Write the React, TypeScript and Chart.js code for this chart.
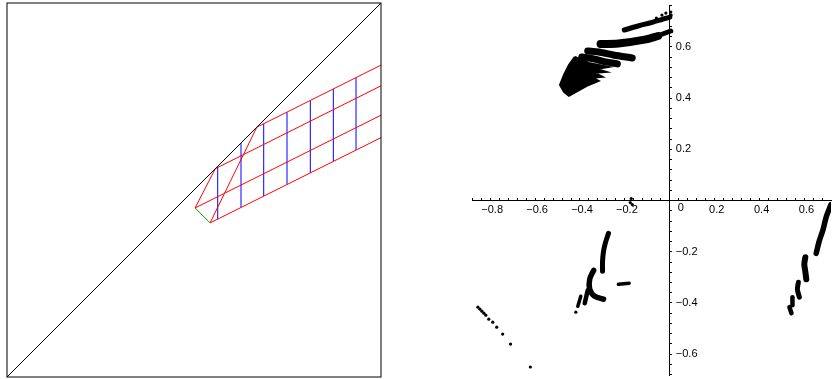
import React, { useEffect, useRef } from "react";
import { Chart, registerables } from "chart.js";

Chart.register(...registerables);

type P = [number, number];

// ---------- Left panel (unit square) ----------
const diagonalLine: P[] = [[0, 0], [1, 1]];
const redStartX = [0.668, 0.557, 0.503, 0.543];
const redStartY = [0.668, 0.557, 0.452, 0.412];
const redEndX = [1, 1, 1, 1];
const redEndY = [0.834, 0.7785, 0.7, 0.64];
const linkFrom: P[] = [[0.503, 0.452], [0.543, 0.412]];
const linkTo: P[] = [[0.557, 0.557], [0.668, 0.668]];
const greenEdge: P[] = [[0.503, 0.452], [0.543, 0.412]];
const blueX = [0.5634, 0.6257, 0.6864, 0.7487, 0.811, 0.8725, 0.9332];
const blueTop = [0.5634, 0.6257, 0.677, 0.708, 0.7395, 0.77, 0.8006];
const blueBottom = [0.422, 0.453, 0.484, 0.515, 0.546, 0.577, 0.607];

// ---------- Right panel (scatter of the attractor) ----------
const bandA: P[] = [[-0.2026, 0.6654], [-0.141, 0.681], [-0.0749, 0.6965], [0, 0.716]];
const bandADots: P[] = [[-0.0176, 0.7315], [0.0044, 0.7354], [-0.035, 0.7237], [-0.06, 0.712], [0.006, 0.724]];
const bandBHead: P[] = [[-0.3084, 0.6109], [-0.2291, 0.6128], [-0.1057, 0.6288], [-0.0529, 0.642]];
const bandBTail: P[] = [[-0.0749, 0.6362], [0.0044, 0.6615]];
const bandC: P[] = [[-0.3656, 0.5837], [-0.3172, 0.5798], [-0.2511, 0.5681], [-0.1674, 0.5564]];
const bandD: P[] = [[-0.3921, 0.5603], [-0.3392, 0.5525], [-0.2863, 0.5409], [-0.2335, 0.5331]];
const blob: P[] = [
  [-0.4229, 0.5603], [-0.3612, 0.537], [-0.2731, 0.5214], [-0.326, 0.5136], [-0.2819, 0.5019],
  [-0.3348, 0.4981], [-0.2996, 0.4825], [-0.3436, 0.4786], [-0.3172, 0.4669], [-0.37, 0.4475],
  [-0.4493, 0.4086], [-0.4714, 0.4241], [-0.489, 0.4514], [-0.4714, 0.4903], [-0.4493, 0.5292],
  [-0.4229, 0.5603],
];
const arcE: P[] = [[-0.2731, -0.1284], [-0.2863, -0.1634], [-0.2952, -0.1984], [-0.2996, -0.2374], [-0.2996, -0.2763]];
const arcF: P[] = [[-0.3392, -0.2724], [-0.3568, -0.3074], [-0.3568, -0.3463], [-0.3348, -0.3735], [-0.2952, -0.3852]];
const strokeG: P[] = [[-0.3656, -0.3502], [-0.3789, -0.4008]];
const strokeH: P[] = [[-0.3965, -0.3735], [-0.4097, -0.4125]];
const clusterJ: P[] = [[-0.229, -0.327], [-0.205, -0.325], [-0.181, -0.323]];
const lowerDots: P[] = [
  [-0.4185, -0.4358], [-0.8546, -0.4163], [-0.8458, -0.4241], [-0.837, -0.4319], [-0.8282, -0.4397],
  [-0.8194, -0.4475], [-0.8062, -0.463], [-0.7885, -0.4747], [-0.7709, -0.4942], [-0.7445, -0.5214],
  [-0.7093, -0.5603], [-0.6211, -0.6498], [-0.1718, 0.0078], [-0.1674, -0.0156], [-0.1762, -0.0078],
];
const bandK: P[] = [[0.7181, -0.0156], [0.7093, -0.035], [0.696, -0.0661], [0.6828, -0.1128], [0.6652, -0.1595], [0.652, -0.2062]];
const strokeL: P[] = [[0.6035, -0.2218], [0.5991, -0.249], [0.6035, -0.2763], [0.6079, -0.3074]];
const strokeM: P[] = [[0.5727, -0.3191], [0.5683, -0.3463], [0.5771, -0.3774]];
const strokeN: P[] = [[0.5463, -0.3774], [0.5463, -0.4086]];
const strokeO: P[] = [[0.533, -0.4163], [0.5419, -0.4397]];

const xLabelValues = [-0.8, -0.6, -0.4, -0.2, 0.2, 0.4, 0.6];
const xLabelTexts = ["\u22120.8", "\u22120.6", "\u22120.4", "\u22120.2", "0.2", "0.4", "0.6"];
const yLabelValues = [0.6, 0.4, 0.2, -0.2, -0.4, -0.6];
const yLabelTexts = ["0.6", "0.4", "0.2", "\u22120.2", "\u22120.4", "\u22120.6"];

const toXY = (pts: P[]) => pts.map(([x, y]) => ({ x, y }));
const FONT = '11px "Liberation Sans", Arial, sans-serif';

const framePlugin = {
  id: "frame",
  afterDraw(chart: any) {
    const { ctx, chartArea: a } = chart;
    ctx.save();
    ctx.strokeStyle = "#000";
    ctx.lineWidth = 1;
    ctx.strokeRect(a.left, a.top, a.right - a.left, a.bottom - a.top);
    ctx.restore();
  },
};

const labelPlugin = {
  id: "axisLabels",
  afterDraw(chart: any) {
    const { ctx } = chart;
    const xs = chart.scales.x;
    const ys = chart.scales.y;
    const x0 = xs.getPixelForValue(0);
    const y0 = ys.getPixelForValue(0);
    ctx.save();
    ctx.font = FONT;
    ctx.fillStyle = "#000";
    ctx.textAlign = "center";
    ctx.textBaseline = "top";
    xLabelValues.forEach((v, i) => ctx.fillText(xLabelTexts[i], xs.getPixelForValue(v) + 2, y0 + 4));
    ctx.textAlign = "left";
    ctx.fillText("0", x0 + 8, y0 + 2);
    ctx.textBaseline = "middle";
    yLabelValues.forEach((v, i) => ctx.fillText(yLabelTexts[i], x0 + 6, ys.getPixelForValue(v)));
    ctx.restore();
  },
};

function seg(points: P[], color: string, width = 1) {
  return {
    data: toXY(points),
    borderColor: color,
    borderWidth: width,
    pointRadius: 0,
    showLine: true,
    fill: false,
    tension: 0,
  };
}

function LeftChart() {
  const ref = useRef<HTMLCanvasElement>(null);
  useEffect(() => {
    const datasets: any[] = [seg(diagonalLine, "#000")];
    redStartX.forEach((sx, i) => {
      datasets.push(seg([[sx, redStartY[i]], [redEndX[i], redEndY[i]]], "#ff0000"));
    });
    linkFrom.forEach((f, i) => datasets.push(seg([f, linkTo[i]], "#ff0000")));
    datasets.push(seg(greenEdge, "#009900"));
    blueX.forEach((bx, i) => datasets.push(seg([[bx, blueBottom[i]], [bx, blueTop[i]]], "#0000ff")));
    const chart = new Chart(ref.current!, {
      type: "line",
      data: { datasets },
      options: {
        animation: false,
        responsive: false,
        events: [],
        layout: { padding: { left: 7, top: 3, right: 9, bottom: 2 } },
        plugins: { legend: { display: false }, tooltip: { enabled: false } },
        scales: {
          x: { type: "linear", min: 0, max: 1, display: false },
          y: { type: "linear", min: 0, max: 1, display: false },
        },
      },
      plugins: [framePlugin],
    } as any);
    return () => chart.destroy();
  }, []);
  return (
    <canvas
      ref={ref}
      width={390}
      height={379}
      style={{ position: "absolute", left: 0, top: 0, width: 390, height: 379 }}
    />
  );
}

function RightChart() {
  const ref = useRef<HTMLCanvasElement>(null);
  useEffect(() => {
    const band = (pts: P[], w: number) => ({
      data: toXY(pts),
      borderColor: "#000",
      backgroundColor: "#000",
      borderWidth: w,
      borderCapStyle: "round",
      borderJoinStyle: "round",
      pointRadius: 0,
      showLine: true,
      fill: false,
      tension: 0.3,
    });
    const dots = (pts: P[], r: number) => ({
      data: toXY(pts),
      showLine: false,
      pointRadius: r,
      pointBorderWidth: 0,
      pointBackgroundColor: "#000",
      borderColor: "#000",
    });
    const datasets: any[] = [
      {
        data: toXY(blob),
        borderColor: "#000",
        backgroundColor: "#000",
        borderWidth: 2,
        pointRadius: 0,
        showLine: true,
        fill: "shape",
        tension: 0,
      },
      band(bandA, 5),
      dots(bandADots, 1.6),
      band(bandBHead, 8),
      band(bandBTail, 5),
      band(bandC, 7),
      band(bandD, 7),
      band(arcE, 5),
      band(arcF, 5.5),
      band(strokeG, 4.5),
      band(strokeH, 3.5),
      band(clusterJ, 3.5),
      dots(lowerDots, 1.6),
      band(bandK, 5.5),
      band(strokeL, 6),
      band(strokeM, 5),
      band(strokeN, 4.5),
      band(strokeO, 4.5),
    ];
    const xTicks: number[] = [];
    for (let k = -22; k <= 17; k++) xTicks.push(Math.round(k * 4) / 100);
    const yTicks: number[] = [];
    for (let k = -17; k <= 19; k++) yTicks.push(Math.round(k * 4) / 100);
    const axisCommon = {
      type: "linear",
      grid: { display: true, drawOnChartArea: false, drawTicks: true, tickLength: -3, color: "#000", tickWidth: 1 },
      border: { display: true, color: "#000", width: 1 },
      ticks: { display: false },
    };
    const chart = new Chart(ref.current!, {
      type: "line",
      data: { datasets },
      options: {
        animation: false,
        responsive: false,
        events: [],
        layout: { padding: { left: 32, top: 5, right: 0, bottom: 3 } },
        plugins: { legend: { display: false }, tooltip: { enabled: false } },
        scales: {
          x: {
            ...axisCommon,
            min: -0.881,
            max: 0.718,
            position: { y: 0 },
            afterBuildTicks: (s: any) => {
              s.ticks = xTicks.map((value) => ({ value }));
            },
          },
          y: {
            ...axisCommon,
            min: -0.681,
            max: 0.763,
            position: { x: 0 },
            afterBuildTicks: (s: any) => {
              s.ticks = yTicks.map((value) => ({ value }));
            },
          },
        },
      },
      plugins: [labelPlugin],
    } as any);
    return () => chart.destroy();
  }, []);
  return (
    <canvas
      ref={ref}
      width={395}
      height={379}
      style={{ position: "absolute", left: 440, top: 0, width: 395, height: 379 }}
    />
  );
}

export default function App() {
  return (
    <div
      style={{
        position: "absolute",
        left: 0,
        top: 0,
        width: 835,
        height: 379,
        background: "#fff",
        overflow: "hidden",
      }}
    >
      <LeftChart />
      <RightChart />
    </div>
  );
}
